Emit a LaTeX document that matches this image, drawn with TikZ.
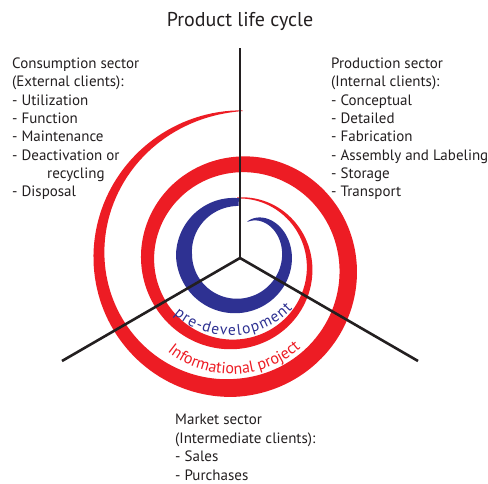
\documentclass[tikz,border=0pt]{standalone}
\usepackage{fontspec}
\setmainfont{PT Sans}
\usetikzlibrary{decorations.text}
\definecolor{spiralred}{HTML}{ED1C24}
\definecolor{spiralblue}{HTML}{2E3192}
\definecolor{ink}{HTML}{231F20}

\begin{document}
\begin{tikzpicture}[x=1pt,y=-1pt,
  declare function={
    % red spiral: centre radius and stroke width, s = turns from the top
    rr(\s)=66+23.5*\s+10*\s*\s;
    ww(\s)=ifthenelse(\s<1.5, 1+17*sin(60*\s), 18*((2.01-\s)/0.51)^0.7);
    % blue spiral: centre radius and width, p = degrees clockwise from top
    br(\p)=52-18*exp(-min((\p-19)/25,8));
    bw(\p)=ifthenelse(\p<270, 16*(sin(0.3586*(\p-19)))^0.6, 16-0.0889*(\p-270));
  },
  sector/.style={font=\fontsize{15}{18.4}\selectfont, text=ink, align=left,
                 anchor=base west, inner sep=0pt},
  axisline/.style={draw=ink, line width=2.6pt},
]
\useasboundingbox (0,0) rectangle (488,484);
\fill[white] (0,0) rectangle (488,484);

% outer red spiral (informational project)
\fill[spiralred]
  plot[domain=0:2.006, samples=320, variable=\s]
    ({237+(rr(\s)+ww(\s)/2)*sin(360*\s)}, {264-(rr(\s)+ww(\s)/2)*cos(360*\s)})
  -- plot[domain=2.006:0, samples=320, variable=\s]
    ({237+(rr(\s)-ww(\s)/2)*sin(360*\s)}, {264-(rr(\s)-ww(\s)/2)*cos(360*\s)})
  -- cycle;

% inner blue spiral (pre-development)
\fill[spiralblue]
  plot[domain=19.5:363, samples=200, variable=\p]
    ({236+(br(\p)+bw(\p)/2)*sin(\p)}, {254-(br(\p)+bw(\p)/2)*cos(\p)})
  -- plot[domain=363:19.5, samples=200, variable=\p]
    ({236+(br(\p)-bw(\p)/2)*sin(\p)}, {254-(br(\p)-bw(\p)/2)*cos(\p)})
  -- cycle;

% the three sector axes
\coordinate (c) at (240,258);
\coordinate (top) at (240,48);
\coordinate (ll) at (62,361);
\coordinate (lr) at (418,361);
\draw[axisline] (c) -- (top);
\draw[axisline] (c) -- (ll);
\draw[axisline] (c) -- (lr);

% curved labels, spread along their arcs
\path[decorate, decoration={text along path, text align={fit to path},
    text={|\fontsize{15.5}{16}\selectfont\color{spiralblue}|pre-development}}]
  plot[domain=221:133, samples=60, variable=\a] ({230+85.5*sin(\a)}, {250-85.5*cos(\a)});
\path[decorate, decoration={text along path, text align={fit to path},
    text={|\fontsize{16}{16}\selectfont\color{spiralred}|Informational project}}]
  plot[domain=218.5:140, samples=60, variable=\a] ({232+104*sin(\a)}, {270-104*cos(\a)});

% title and sector descriptions
\node[font=\fontsize{20}{22}\selectfont, text=ink, anchor=base, inner sep=0pt]
  (title) at (240,27) {Product life cycle};
\node[sector] (consumption) at (12,197) {Consumption sector\\(External clients):\\- Utilization\\- Function\\- Maintenance\\- Deactivation or\\\hspace*{35pt}recycling\\- Disposal};
\node[sector] (production) at (331,197) {Production sector\\(Internal clients):\\- Conceptual\\- Detailed\\- Fabrication\\- Assembly and Labeling\\- Storage\\- Transport};
\node[sector] (market) at (175,480) {Market sector\\(Intermediate clients):\\- Sales\\- Purchases};
\end{tikzpicture}
\end{document}
